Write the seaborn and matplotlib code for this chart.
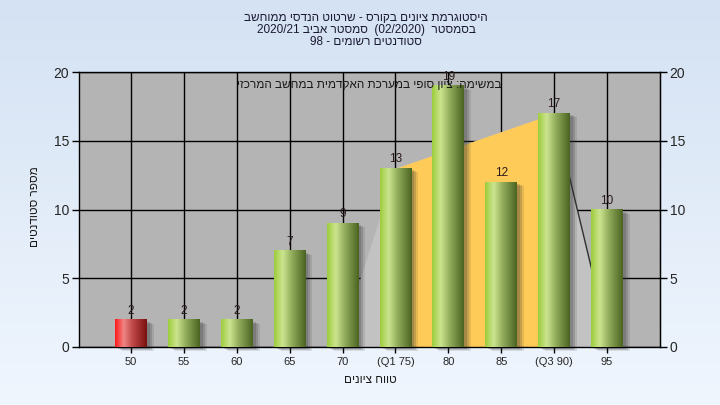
import re
import numpy as np
import pandas as pd
import matplotlib
matplotlib.use("Agg")
import matplotlib.pyplot as plt
import matplotlib.transforms as mtransforms
from matplotlib.colors import LinearSegmentedColormap
from matplotlib.patches import Rectangle
import seaborn as sns

# ---------------------------------------------------------------------------
# Data
# ---------------------------------------------------------------------------
GRADE_LABELS   = ["50", "55", "60", "65", "70", "(Q1 75)", "80", "85", "(Q3 90)", "95"]
STUDENT_COUNTS = [2, 2, 2, 7, 9, 13, 19, 12, 17, 10]
FAILING_BINS   = ["50"]

# background area series (bin index -> value)
AREA_POS    = [4, 5, 8, 9]
AREA_VALUES = [1, 13, 17, 1]
# inter-quartile band
IQR_POS    = [5, 8]
IQR_VALUES = [13, 17]

Y_TICKS = [0, 5, 10, 15, 20]

TITLE_LINES = [
    "היסטוגרמת ציונים בקורס - שרטוט הנדסי ממוחשב",
    "בסמסטר  (02/2020)  סמסטר אביב 2020/21",
    "סטודנטים רשומים - 98",
]
NOTE_TEXT = "במשימה: ציון סופי במערכת האקדמית במחשב המרכזי"
X_LABEL   = "טווח ציונים"
Y_LABEL   = "מספר סטודנטים"

# ---------------------------------------------------------------------------
# Helpers
# ---------------------------------------------------------------------------
LTR_RUN = re.compile(r"[0-9A-Za-z/.]+")
MIRROR  = str.maketrans("()", ")(")


def rtl(text: str) -> str:
    """Logical Hebrew -> visual order (matplotlib has no bidi)."""
    rev = text[::-1].translate(MIRROR)
    return LTR_RUN.sub(lambda m: m.group(0)[::-1], rev)


GREEN = LinearSegmentedColormap.from_list(
    "green_bar", [(0.0, "#9DCC3C"), (0.27, "#CBE48F"), (0.55, "#93AE5D"), (1.0, "#4A6321")])
RED = LinearSegmentedColormap.from_list(
    "red_bar", [(0.0, "#FF1A1A"), (0.27, "#F08585"), (0.55, "#C04848"), (1.0, "#7A1010")])

# ---------------------------------------------------------------------------
# Figure
# ---------------------------------------------------------------------------
sns.set_style("ticks")
plt.rcParams["font.family"] = ["Liberation Sans", "DejaVu Sans"]

fig = plt.figure(figsize=(7.2, 4.05), dpi=100)

# window background gradient
bg = fig.add_axes([0, 0, 1, 1], zorder=-10)
bg.imshow(np.linspace(0, 1, 256).reshape(-1, 1),
          cmap=LinearSegmentedColormap.from_list("bg", ["#D4E2F3", "#F0F6FE"]),
          aspect="auto", extent=[0, 1, 0, 1])
bg.axis("off")

ax = fig.add_axes([79 / 720, 1 - 347 / 405, (660 - 79) / 720, (347 - 72) / 405])
ax.set_facecolor("#B4B4B4")

# areas (drawn over grid, under bars)
ax.fill_between(AREA_POS, AREA_VALUES, 0, color="#C2C2C2", lw=0, zorder=1)
ax.fill_between(IQR_POS, IQR_VALUES, 0, color="#FFCB58", lw=0, zorder=1.2)
ax.plot(AREA_POS[-2:], AREA_VALUES[-2:], color="#303030", lw=1, zorder=1.3)

df = pd.DataFrame({"grade": GRADE_LABELS, "count": STUDENT_COUNTS})
sns.barplot(data=df, x="grade", y="count", order=GRADE_LABELS, width=0.6,
            color="#93AE5D", saturation=1, linewidth=0, edgecolor="none",
            ax=ax, zorder=3)
bars = list(ax.patches)

grad = np.linspace(0, 1, 128).reshape(1, -1)
for bar, label, count in zip(bars, GRADE_LABELS, STUDENT_COUNTS):
    x0, w, h = bar.get_x(), bar.get_width(), bar.get_height()
    # soft drop shadow
    for dx, dy, a in [(3, -2, 0.2), (5, -3, 0.18), (7, -4, 0.12)]:
        off = mtransforms.ScaledTranslation(dx / 100, dy / 100, fig.dpi_scale_trans)
        ax.add_patch(Rectangle((x0, 0), w, h, facecolor="#303030", edgecolor="none",
                               alpha=a, transform=ax.transData + off,
                               zorder=2.5, clip_on=False))
    cmap = RED if label in FAILING_BINS else GREEN
    ax.imshow(grad, cmap=cmap, extent=[x0, x0 + w, 0, h], aspect="auto",
              interpolation="bilinear", zorder=3.5)
    ax.annotate(str(count), (x0 + w / 2, h), xytext=(0, 2), textcoords="offset points",
                ha="center", va="bottom", fontsize=8.5, color="#2A1A1A", zorder=5)

ax.set_xlim(-0.98, 10.0)
ax.set_ylim(0, 20)
ax.set_yticks(Y_TICKS)
ax.set_axisbelow(True)
ax.grid(True, color="black", lw=1)
ax.set_xlabel("")
ax.set_ylabel("")
for s in ax.spines.values():
    s.set_color("black")
    s.set_linewidth(1)
    s.set_visible(True)
ax.tick_params(axis="x", length=4, width=1, color="black", labelsize=8, pad=3)
ax.tick_params(axis="y", length=5, width=1, color="black", labelsize=10, pad=2)

ax2 = ax.twinx()
ax2.set_ylim(0, 20)
ax2.set_yticks(Y_TICKS)
ax2.tick_params(axis="y", length=5, width=1, color="black", labelsize=10, pad=2)
for s in ax2.spines.values():
    s.set_visible(False)
ax2.spines["right"].set_visible(True)
ax2.spines["right"].set_color("black")
ax2.grid(False)

# texts
for i, line in enumerate(TITLE_LINES):
    fig.text(366 / 720, 1 - (18 + 12 * i) / 405, rtl(line), ha="center", va="center",
             fontsize=8.5, color="#1A1A33")
ax.text(0.5, 0.953, rtl(NOTE_TEXT), transform=ax.transAxes, ha="center", va="center",
        fontsize=8.5, color="#1A1A1A", zorder=6)
fig.text(370 / 720, 1 - 380 / 405, rtl(X_LABEL), ha="center", va="center",
         fontsize=8.5, color="#1A1A1A")
fig.text(35 / 720, 1 - 207 / 405, rtl(Y_LABEL), ha="center", va="center",
         rotation=90, fontsize=8.5, color="#1A1A1A")

fig.savefig("out.png", dpi=100)
